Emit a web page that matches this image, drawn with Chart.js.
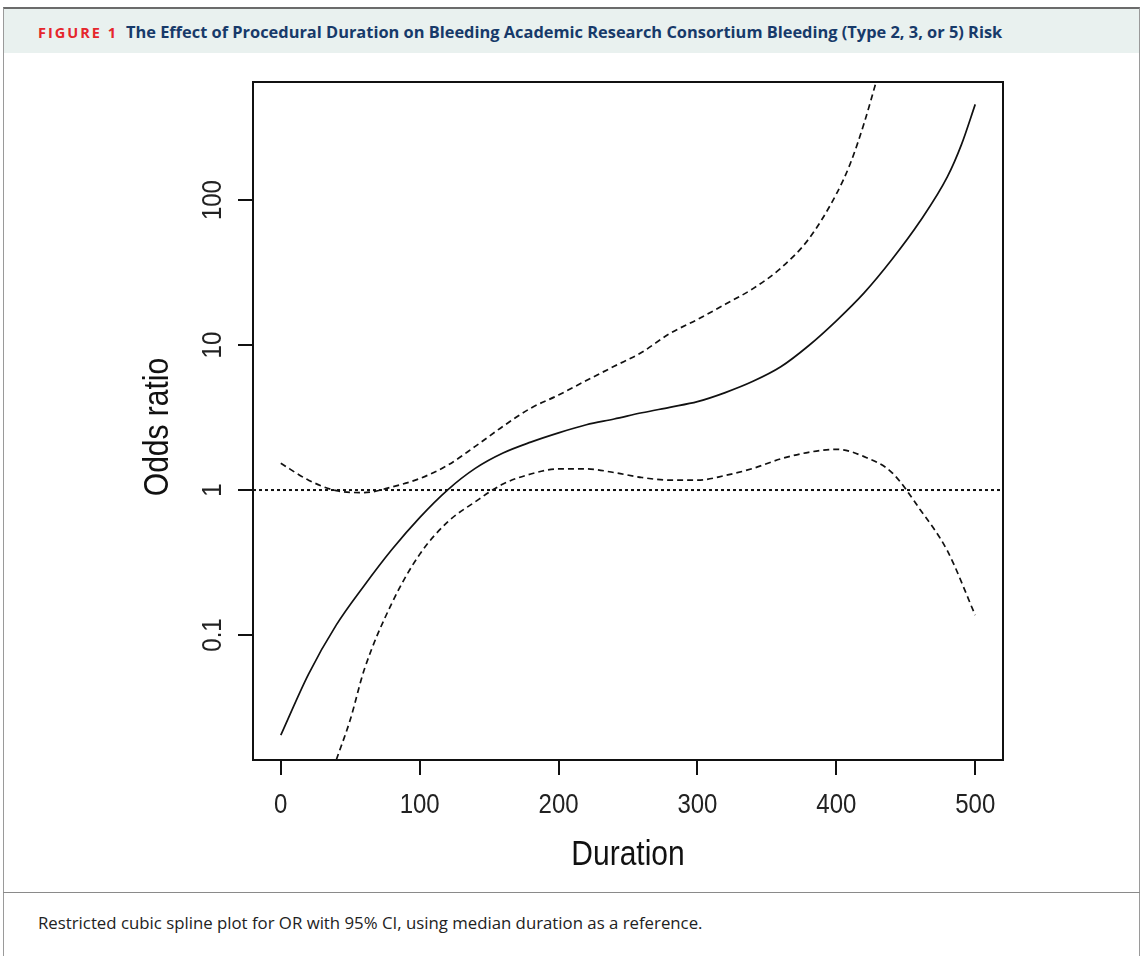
<!DOCTYPE html>
<html>
<head>
<meta charset="utf-8">
<script src="https://cdn.jsdelivr.net/npm/chart.js@4.4.0/dist/chart.umd.min.js"></script>
<style>
  html, body { margin: 0; padding: 0; background: #fff; }
  #figure { position: relative; width: 1142px; height: 956px; overflow: hidden; }
  #frame {
    position: absolute; left: 3px; top: 7px; width: 1137px; height: 960px;
    border-top: 2px solid #6b6b6b; border-left: 1px solid #9a9a9a; border-right: 1px solid #9a9a9a;
    box-sizing: border-box;
  }
  #header {
    position: absolute; left: 4px; top: 9px; width: 1135px; height: 44px;
    background: #e9f1ef; font-family: "Open Sans", sans-serif; font-weight: 700;
    line-height: 46px; white-space: nowrap;
  }
  #header .fig { color: #e5262c; font-size: 14.5px; letter-spacing: 2px; margin-left: 34px; }
  #header .title { color: #173a6a; font-size: 16.4px; margin-left: 8px; }
  #sep { position: absolute; left: 3px; top: 892px; width: 1137px; height: 0; border-top: 1px solid #8a8a8a; }
  #caption {
    position: absolute; left: 38px; top: 911px; font-family: "Open Sans", sans-serif;
    font-size: 16.8px; color: #222; white-space: nowrap;
  }
  #chartBox { position: absolute; left: 0; top: 53px; width: 1142px; height: 839px; }
</style>
</head>
<body>
<div id="figure">
  <div id="frame"></div>
  <div id="header"><span class="fig">FIGURE 1</span><span class="title">The Effect of Procedural Duration on Bleeding Academic Research Consortium Bleeding (Type 2, 3, or 5) Risk</span></div>
  <div id="chartBox"><canvas id="splineChart" width="1142" height="839"></canvas></div>
  <div id="sep"></div>
  <div id="caption">Restricted cubic spline plot for OR with 95% CI, using median duration as a reference.</div>
</div>
<script>
// odds ratio estimate (solid line)
const durations = [0, 20, 40, 60, 80, 100, 120, 140, 160, 180, 200, 220, 240, 260, 280, 300,
  320, 340, 360, 380, 400, 420, 440, 460, 480, 490, 500];
const orEstimate = [0.0204, 0.0538, 0.1175, 0.219, 0.389, 0.646, 1.0, 1.41, 1.80, 2.14, 2.48,
  2.82, 3.09, 3.41, 3.72, 4.07, 4.70, 5.62, 7.08, 9.89, 14.7, 22.9, 38.9, 70.8, 145, 240, 457];

// upper 95% CI (dashed)
const upperDurations = [0, 20, 40, 60, 80, 100, 120, 140, 160, 180, 200, 220, 240, 260, 280, 300,
  320, 340, 360, 380, 400, 410, 420, 430];
const orUpper = [1.53, 1.17, 0.99, 0.96, 1.05, 1.20, 1.48, 2.0, 2.75, 3.67, 4.52, 5.69, 7.13,
  8.91, 12.0, 15.0, 19.1, 24.5, 33.9, 53.7, 110, 178, 339, 724];

// lower 95% CI (dashed)
const lowerDurations = [40, 50, 60, 80, 100, 120, 140, 160, 180, 200, 220, 240, 260, 280, 300,
  320, 340, 360, 380, 400, 420, 440, 460, 480, 500];
const orLower = [0.0138, 0.026, 0.0573, 0.166, 0.36, 0.60, 0.83, 1.10, 1.29, 1.40, 1.40, 1.32,
  1.22, 1.17, 1.17, 1.26, 1.41, 1.64, 1.82, 1.91, 1.70, 1.32, 0.741, 0.38, 0.137];

// reference line OR = 1
const refDurations = [-20, 520];
const refOR = [1, 1];

const xTicks = [0, 100, 200, 300, 400, 500];
const yTicks = [0.1, 1, 10, 100];
const yTickLabels = ['0.1', '1', '10', '100'];

const INK = '#111';
const R_FONT = '"Liberation Sans", Arial, sans-serif';

function toPoints(xs, ys) {
  return xs.map((x, i) => ({ x: x, y: ys[i] }));
}

function drawRText(ctx, text, x, y, size, rotated, color) {
  ctx.save();
  ctx.translate(x, y);
  if (rotated) ctx.rotate(-Math.PI / 2);
  ctx.scale(1, 1.17);
  ctx.font = size + 'px ' + R_FONT;
  ctx.fillStyle = color || INK;
  ctx.textAlign = 'center';
  ctx.textBaseline = 'middle';
  ctx.fillText(text, 0, 0);
  ctx.restore();
}

// draws the R-style box, tick marks and labels from the chart's scales
const rAxesPlugin = {
  id: 'rAxes',
  afterDatasetsDraw(chart) {
    const ctx = chart.ctx;
    const area = chart.chartArea;
    const xs = chart.scales.x;
    const ys = chart.scales.y;
    ctx.save();
    ctx.strokeStyle = INK;
    ctx.lineWidth = 2;
    ctx.strokeRect(area.left, area.top, area.right - area.left, area.bottom - area.top);

    ctx.beginPath();
    xTicks.forEach(v => {
      const px = Math.round(xs.getPixelForValue(v));
      ctx.moveTo(px, area.bottom);
      ctx.lineTo(px, area.bottom + 15);
    });
    yTicks.forEach(v => {
      const py = Math.round(ys.getPixelForValue(v));
      ctx.moveTo(area.left - 15, py);
      ctx.lineTo(area.left, py);
    });
    ctx.stroke();
    ctx.restore();

    xTicks.forEach(v => {
      drawRText(ctx, String(v), xs.getPixelForValue(v), area.bottom + 45, 24, false, '#222');
    });
    yTicks.forEach((v, i) => {
      drawRText(ctx, yTickLabels[i], area.left - 40, ys.getPixelForValue(v), 24, true, '#222');
    });

    drawRText(ctx, 'Duration', (area.left + area.right) / 2, area.bottom + 95, 30, false);
    drawRText(ctx, 'Odds ratio', area.left - 95, (area.top + area.bottom) / 2 + 6, 30, true);
  }
};

const lineBase = {
  borderColor: INK,
  borderWidth: 1.7,
  pointRadius: 0,
  fill: false,
  cubicInterpolationMode: 'monotone',
  clip: 0
};

new Chart(document.getElementById('splineChart').getContext('2d'), {
  type: 'line',
  data: {
    datasets: [
      Object.assign({}, lineBase, { label: 'OR', data: toPoints(durations, orEstimate) }),
      Object.assign({}, lineBase, { label: 'Upper 95% CI', data: toPoints(upperDurations, orUpper), borderDash: [6, 4] }),
      Object.assign({}, lineBase, { label: 'Lower 95% CI', data: toPoints(lowerDurations, orLower), borderDash: [6, 4] }),
      Object.assign({}, lineBase, { label: 'Reference', data: toPoints(refDurations, refOR), borderDash: [3, 3], borderWidth: 2, cubicInterpolationMode: 'default', tension: 0 })
    ]
  },
  options: {
    responsive: false,
    animation: false,
    events: [],
    layout: { padding: { left: 253, right: 139, top: 29, bottom: 132 } },
    plugins: { legend: { display: false }, tooltip: { enabled: false } },
    scales: {
      x: { type: 'linear', min: -20, max: 520, display: false },
      y: { type: 'logarithmic', min: 0.01374, max: 652, display: false }
    }
  },
  plugins: [rAxesPlugin]
});
</script>
</body>
</html>
